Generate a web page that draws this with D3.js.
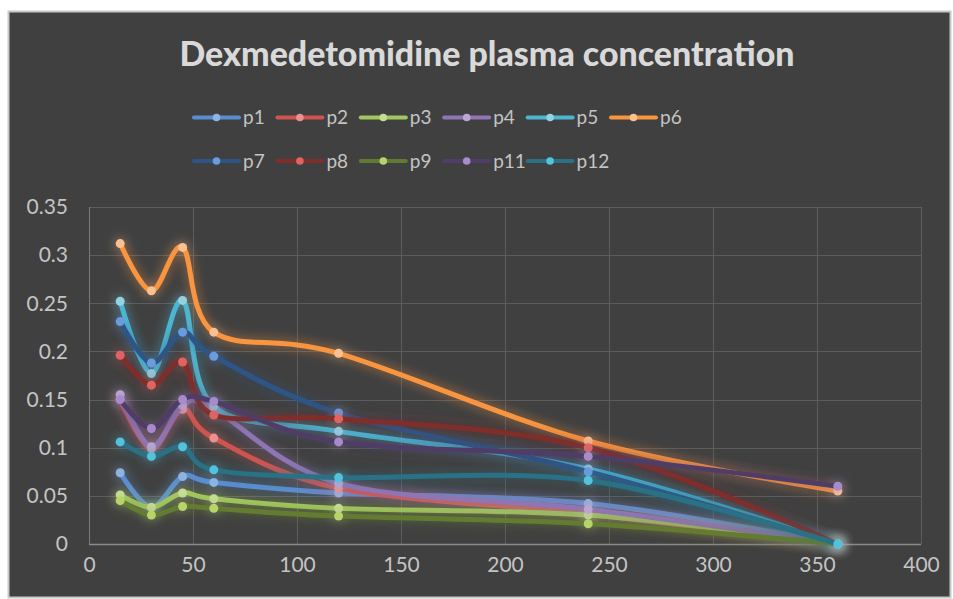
<!DOCTYPE html>
<html><head><meta charset="utf-8">
<script src="https://cdn.jsdelivr.net/npm/d3@7"></script>
<style>html,body{margin:0;padding:0;background:#fff;}svg{display:block;}</style>
</head><body>
<script>
const times = [15, 30, 45, 60, 120, 240, 360];
const seriesNames = ["p1","p2","p3","p4","p5","p6","p7","p8","p9","p11","p12"];
const p1  = [0.074, 0.038, 0.070, 0.064, 0.053, 0.042, 0.000];
const p2  = [0.150, 0.099, 0.140, 0.110, 0.058, 0.031, 0.000];
const p3  = [0.051, 0.038, 0.053, 0.047, 0.037, 0.030, 0.000];
const p4  = [0.155, 0.101, 0.144, 0.140, 0.063, 0.036, 0.000];
const p5  = [0.252, 0.177, 0.253, 0.143, 0.117, 0.078, 0.000];
const p6  = [0.312, 0.263, 0.308, 0.220, 0.198, 0.107, 0.055];
const p7  = [0.231, 0.188, 0.220, 0.195, 0.136, 0.075, 0.000];
const p8  = [0.196, 0.165, 0.189, 0.134, 0.130, 0.100, 0.000];
const p9  = [0.045, 0.030, 0.039, 0.037, 0.029, 0.021, 0.000];
const p11 = [0.150, 0.120, 0.150, 0.148, 0.106, 0.091, 0.060];
const p12 = [0.106, 0.091, 0.101, 0.077, 0.069, 0.066, 0.000];
const seriesValues = [p1,p2,p3,p4,p5,p6,p7,p8,p9,p11,p12];
const yTicks = [0,0.05,0.1,0.15,0.2,0.25,0.3,0.35];
const yTickLabels = ["0","0.05","0.1","0.15","0.2","0.25","0.3","0.35"];
const xTicks = [0,50,100,150,200,250,300,350,400];
const title = "Dexmedetomidine plasma concentration";

const lineColors = ["#5A8DCF","#CE5450","#A3C75E","#9074B3","#4CB6D1","#F9953F","#2E5486","#802D2B","#637B31","#503D68","#2A7185"];
const markerColors = ["#8DB3E2","#E8918E","#C6DC96","#BBA6D3","#93D2E2","#FAC090","#6A9BDC","#E06462","#B7D46A","#A88BCB","#52C2DD"];

const W = 953, H = 599;
const svg = d3.select("body").append("svg").attr("width", W).attr("height", H);
const font = "Lato, 'Open Sans', sans-serif";

const defs = svg.append("defs");
const f = defs.append("filter").attr("id","glow").attr("filterUnits","userSpaceOnUse")
  .attr("x",0).attr("y",0).attr("width",W).attr("height",H);
f.append("feGaussianBlur").attr("in","SourceGraphic").attr("stdDeviation",6).attr("result","b");
f.append("feComponentTransfer").attr("in","b").attr("result","b2")
  .append("feFuncA").attr("type","linear").attr("slope",0.7);
const fm = f.append("feMerge");
fm.append("feMergeNode").attr("in","b2");
fm.append("feMergeNode").attr("in","SourceGraphic");

// chart background
svg.append("rect").attr("x",8.5).attr("y",11.5).attr("width",942).attr("height",586)
  .attr("fill","#404040").attr("stroke","#c8c8c8").attr("stroke-width",2);

const x = d3.scaleLinear().domain([0,400]).range([89,921]);
const y = d3.scaleLinear().domain([0,0.35]).range([544,207]);

// grid
const grid = svg.append("g");
grid.selectAll("line.h").data(yTicks.slice(1)).join("line")
  .attr("x1",x(0)).attr("x2",x(400)).attr("y1",d=>Math.round(y(d))+0.5).attr("y2",d=>Math.round(y(d))+0.5)
  .attr("stroke","#5c5c5c").attr("stroke-width",1);
grid.selectAll("line.v").data(xTicks).join("line")
  .attr("y1",y(0.35)).attr("y2",y(0)).attr("x1",d=>Math.round(x(d))+0.5).attr("x2",d=>Math.round(x(d))+0.5)
  .attr("stroke",d=>d===0?"#7a7a7a":"#5c5c5c").attr("stroke-width",1);
svg.append("line").attr("x1",x(0)).attr("x2",x(400)).attr("y1",Math.round(y(0))+0.5).attr("y2",Math.round(y(0))+0.5)
  .attr("stroke","#8a8a8a").attr("stroke-width",1.5);

// axes
const yAxis = d3.axisLeft(y).tickValues(yTicks).tickFormat((d,i)=>yTickLabels[i]).tickSize(0).tickPadding(21);
const gy = svg.append("g").attr("transform",`translate(${x(0)},0)`).call(yAxis);
gy.select(".domain").remove();
gy.selectAll("text").attr("fill","#c4c4c4").style("font-family",font).style("font-size","21px");

const xAxis = d3.axisBottom(x).tickValues(xTicks).tickFormat(d3.format("d")).tickSize(0).tickPadding(13);
const gx = svg.append("g").attr("transform",`translate(0,${y(0)})`).call(xAxis);
gx.select(".domain").remove();
gx.selectAll("text").attr("fill","#c4c4c4").style("font-family",font).style("font-size","21px");

// lines
const line = d3.line().x((d,i)=>x(times[i])).y(d=>y(d)).curve(d3.curveCatmullRom.alpha(0));
seriesValues.forEach((vals, si) => {
  const g = svg.append("g").attr("filter","url(#glow)");
  g.append("path").datum(vals).attr("d", line).attr("fill","none")
    .attr("stroke", lineColors[si]).attr("stroke-width",5).attr("stroke-linecap","round").attr("stroke-linejoin","round");
  g.selectAll("circle").data(vals).join("circle")
    .attr("cx",(d,i)=>x(times[i])).attr("cy",d=>y(d)).attr("r",4.5)
    .attr("fill", markerColors[si]);
});

// title
const t = svg.append("text").attr("x",487).attr("y",66).attr("text-anchor","middle")
  .attr("fill","#d9d9d9").style("font-family",font).style("font-weight","900").style("font-size","30px").text(title);
const tw = t.node().getComputedTextLength();
t.style("font-size", (30*615/tw).toFixed(2)+"px");

// legend
const leg = svg.append("g");
seriesNames.forEach((name, i) => {
  const row = i < 6 ? 0 : 1;
  const col = i < 6 ? i : i - 6;
  const lx = 194 + col*83.4;
  const ly = row === 0 ? 117.5 : 161;
  const g = leg.append("g");
  g.append("line").attr("x1",lx).attr("x2",lx+45).attr("y1",ly).attr("y2",ly)
    .attr("stroke",lineColors[i]).attr("stroke-width",4).attr("stroke-linecap","round");
  g.append("circle").attr("cx",lx+22.5).attr("cy",ly).attr("r",3.8).attr("fill",markerColors[i]);
  g.append("text").attr("x",lx+49).attr("y",ly).attr("dy","0.36em").attr("fill","#c4c4c4")
    .style("font-family",font).style("font-size","19px").text(name);
});
</script>
</body></html>
